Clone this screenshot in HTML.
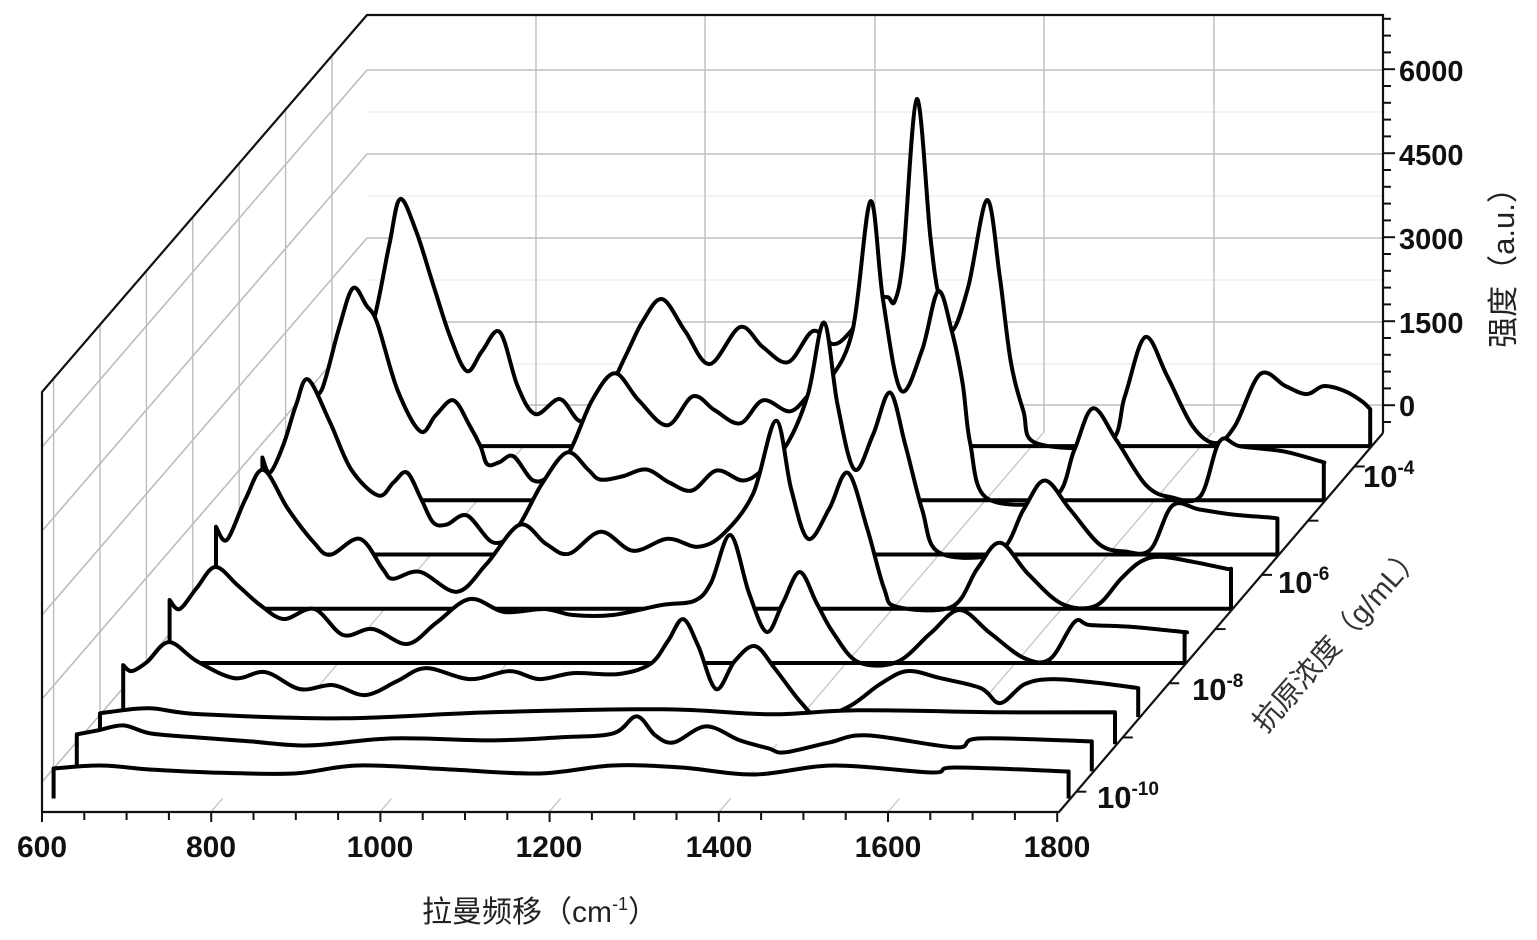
<!DOCTYPE html>
<html><head><meta charset="utf-8">
<style>
html,body{margin:0;padding:0;background:#fff;}
svg{display:block;}
text{font-family:"Liberation Sans","Noto Sans CJK SC",sans-serif;}
</style></head>
<body>
<svg id="c" width="1537" height="940" xmlns="http://www.w3.org/2000/svg">
<rect width="1537" height="940" fill="#fff"/>
<g id="grid"></g>
<g id="series"></g>
<g id="axes"></g>
<g font-weight="bold" font-size="30" fill="#111" text-anchor="middle">
<text x="42" y="857">600</text>
<text x="211" y="857">800</text>
<text x="380" y="857">1000</text>
<text x="549" y="857">1200</text>
<text x="719" y="857">1400</text>
<text x="888" y="857">1600</text>
<text x="1057" y="857">1800</text>
</g>
<g font-weight="bold" font-size="29" fill="#111">
<text x="1399" y="81">6000</text>
<text x="1399" y="165">4500</text>
<text x="1399" y="249">3000</text>
<text x="1399" y="333">1500</text>
<text x="1399" y="416">0</text>
</g>
<g font-weight="bold" font-size="31" fill="#111">
<text x="1097" y="808">10<tspan font-size="19" dy="-13">-10</tspan></text>
<text x="1192" y="700">10<tspan font-size="19" dy="-13">-8</tspan></text>
<text x="1278" y="593">10<tspan font-size="19" dy="-13">-6</tspan></text>
<text x="1363" y="487">10<tspan font-size="19" dy="-13">-4</tspan></text>
</g>
<text x="540" y="922" font-size="30" fill="#222" text-anchor="middle">拉曼频移（cm<tspan font-size="18" dy="-12">-1</tspan><tspan dy="12">）</tspan></text>
<text transform="translate(1514,260) rotate(-90)" font-size="31" fill="#222" text-anchor="middle">强度（a.u.）</text>
<text transform="translate(1345,645) rotate(-48.5)" font-size="29" fill="#333" text-anchor="middle">抗原浓度（g/mL）</text>
</svg>
<script>
(function(){
var NS="http://www.w3.org/2000/svg";
function el(p,t,a){var e=document.createElementNS(NS,t);for(var k in a)e.setAttribute(k,a[k]);p.appendChild(e);return e;}
var grid=document.getElementById('grid'),axes=document.getElementById('axes'),ser=document.getElementById('series');
var DX=23.2,DY=27.1;
var gc="#bdbdbd";
[70,154,238,322,405].forEach(function(y){
 el(grid,'line',{x1:367,y1:y,x2:1383,y2:y,stroke:gc,'stroke-width':1.6});
 el(grid,'line',{x1:42,y1:y+377,x2:367,y2:y,stroke:gc,'stroke-width':1.6});
});
[112,196,280,364].forEach(function(y){
 el(grid,'line',{x1:367,y1:y,x2:1383,y2:y,stroke:"#e6e6e6",'stroke-width':1});
});
[536,705,875,1044,1214].forEach(function(x){
 el(grid,'line',{x1:x,y1:15,x2:x,y2:433,stroke:gc,'stroke-width':1.4});
});
for(var k=0;k<7;k++){var z=0.5+2*k;var x=42+z*DX;
 el(grid,'line',{x1:x,y1:392-z*DY,x2:x,y2:812-z*DY,stroke:gc,'stroke-width':1.4});}
[211,380,549,719,888].forEach(function(x){
 el(grid,'line',{x1:x,y1:812,x2:x+324,y2:433,stroke:"#c8c8c8",'stroke-width':1.4});
});
el(axes,'polyline',{points:"42,812 42,392 367,15 1383,15 1383,433",fill:"none",stroke:"#111",'stroke-width':2.2});
el(axes,'polyline',{points:"42,812 1059,812 1383,433",fill:"none",stroke:"#111",'stroke-width':2.2});
for(var i=0;i<=24;i++){var x=42+i*42.3;el(axes,'line',{x1:x,y1:812,x2:x,y2:(i%4==0)?822:820,stroke:"#111",'stroke-width':2});}
for(var i=0;i<=24;i++){var y=422-i*16.8;var maj=((i-1)%5==0);
 el(axes,'line',{x1:1383,y1:y,x2:maj?1395:1391,y2:y,stroke:"#111",'stroke-width':2});}
for(var k=0;k<7;k++){var z=0.75+2*k;var x=1059+z*DX,y=812-z*DY;
 el(axes,'line',{x1:x,y1:y,x2:x+10,y2:y,stroke:"#111",'stroke-width':2});}
var S=[
[13.5,[[600,100],[620,120],[640,200],[653,247],[672,215],[692,162],[712,110],[732,75],[750,95],[771,114],[792,60],[813,32],[842,47],[866,25],[890,40],[919,89],[940,125],[963,147],[990,115],[1019,82],[1055,119],[1082,99],[1112,84],[1141,115],[1165,102],[1185,114],[1210,145],[1229,149],[1238,145],[1248,190],[1264,347],[1280,210],[1290,150],[1305,115],[1325,160],[1347,246],[1362,170],[1375,85],[1390,35],[1405,3],[1490,3],[1510,50],[1534,109],[1560,70],[1590,20],[1617,3],[1640,20],[1670,72],[1700,60],[1725,52],[1745,60],[1770,55],[1790,45],[1800,37]]],
[11.5,[[600,110],[615,110],[635,170],[652,212],[668,195],[681,177],[705,110],[732,69],[750,85],[771,100],[790,75],[803,54],[811,36],[825,38],[842,44],[865,20],[885,25],[909,50],[935,100],[962,127],[990,100],[1024,75],[1054,104],[1080,90],[1110,77],[1137,100],[1169,89],[1193,107],[1215,120],[1243,170],[1264,299],[1279,200],[1300,110],[1325,150],[1344,209],[1360,170],[1373,117],[1382,57],[1402,2],[1480,2],[1505,50],[1527,92],[1555,60],[1590,15],[1620,3],[1654,4],[1677,59],[1701,54],[1752,49],[1796,39],[1800,38]]],
[9.5,[[600,97],[609,82],[625,110],[640,150],[654,175],[680,132],[705,85],[737,59],[755,72],[771,82],[788,55],[802,32],[818,30],[842,39],[873,12],[900,25],[930,70],[960,102],[985,85],[999,75],[1025,78],[1054,85],[1081,72],[1108,64],[1137,84],[1168,74],[1192,85],[1220,110],[1245,160],[1264,232],[1280,150],[1300,85],[1322,120],[1342,162],[1360,110],[1380,45],[1400,2],[1470,2],[1500,45],[1525,74],[1555,45],[1590,10],[1620,3],[1650,5],[1676,49],[1708,45],[1747,40],[1791,37],[1800,36]]],
[7.5,[[600,82],[613,69],[635,110],[656,139],[685,100],[715,67],[735,54],[770,70],[797,40],[809,30],[841,37],[885,17],[920,45],[959,84],[990,65],[1017,55],[1055,77],[1093,58],[1134,70],[1170,62],[1200,75],[1235,115],[1262,188],[1280,120],[1300,70],[1325,100],[1347,136],[1370,80],[1390,20],[1405,2],[1470,2],[1500,40],[1527,66],[1560,35],[1600,5],[1640,3],[1670,30],[1693,47],[1716,52],[1755,47],[1795,40],[1800,40]]],
[5.5,[[600,63],[612,54],[632,75],[654,96],[680,78],[707,58],[735,44],[771,54],[805,28],[840,34],[881,19],[915,40],[955,64],[996,51],[1043,54],[1077,48],[1124,48],[1182,58],[1220,62],[1240,80],[1263,128],[1285,70],[1306,31],[1325,60],[1345,91],[1365,60],[1384,31],[1414,1],[1460,1],[1500,30],[1534,53],[1570,30],[1610,5],[1641,4],[1670,41],[1688,38],[1739,36],[1798,31],[1800,31]]],
[3.5,[[600,52],[610,46],[628,55],[654,75],[687,56],[731,39],[768,45],[809,28],[848,32],[886,22],[924,36],[958,49],[1010,38],[1057,46],[1092,38],[1132,44],[1185,43],[1223,53],[1244,76],[1262,98],[1280,71],[1301,28],[1323,56],[1347,71],[1371,48],[1400,16],[1422,1],[1459,11],[1495,33],[1527,46],[1566,39],[1614,29],[1637,14],[1666,33],[1700,38],[1755,34],[1800,29]]],
[2.5,[[600,31],[657,36],[719,30],[888,26],[1062,32],[1265,35],[1392,30],[1497,34],[1665,32],[1800,32]]],
[1.5,[[600,37],[625,41],[655,46],[687,38],[741,34],[805,30],[875,26],[973,33],[1089,31],[1171,34],[1234,38],[1262,55],[1284,36],[1306,29],[1344,45],[1384,31],[1418,23],[1437,19],[1490,29],[1535,36],[1639,24],[1668,33],[1800,30]]],
[0.5,[[600,30],[655,33],[714,29],[785,26],[884,25],[960,33],[1069,29],[1174,25],[1261,33],[1342,31],[1429,24],[1522,33],[1638,26],[1666,31],[1800,27]]]
];
S.forEach(function(s){
 var z=s[0],fl=812-z*DY,off=z*DX;
 var P=s[1].map(function(p){return [42+(p[0]-600)*0.8458+off, fl-p[1]];});
 var d="M"+P[0][0].toFixed(1)+","+fl.toFixed(1)+" L"+P[0][0].toFixed(1)+","+P[0][1].toFixed(1);
 for(var i=0;i<P.length-1;i++){
  var p0=P[Math.max(0,i-1)],p1=P[i],p2=P[i+1],p3=P[Math.min(P.length-1,i+2)];
  var c1x=p1[0]+(p2[0]-p0[0])/6,c1y=p1[1]+(p2[1]-p0[1])/6;
  var c2x=p2[0]-(p3[0]-p1[0])/6,c2y=p2[1]-(p3[1]-p1[1])/6;
  d+=" C"+c1x.toFixed(1)+","+c1y.toFixed(1)+" "+c2x.toFixed(1)+","+c2y.toFixed(1)+" "+p2[0].toFixed(1)+","+p2[1].toFixed(1);
 }
 var L=P[P.length-1];
 d+=" L"+L[0].toFixed(1)+","+fl.toFixed(1);
 if(z>4){
  d+=" Z";
  el(ser,'path',{d:d,fill:"#fff",stroke:"#000",'stroke-width':4,'stroke-linejoin':"round"});
 } else {
  el(ser,'path',{d:d+" Z",fill:"#fff",stroke:"none"});
  el(ser,'path',{d:d,fill:"none",stroke:"#000",'stroke-width':4,'stroke-linejoin':"round"});
 }
});
})();
</script>
</body></html>
